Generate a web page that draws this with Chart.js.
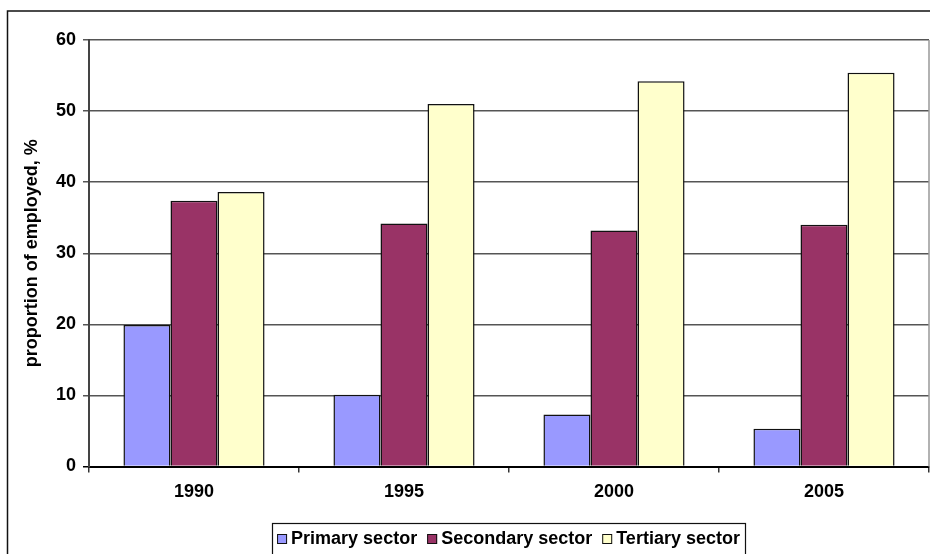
<!DOCTYPE html>
<html>
<head>
<meta charset="utf-8">
<script src="https://cdn.jsdelivr.net/npm/chart.js@4/dist/chart.umd.min.js"></script>
<style>
  html, body { margin: 0; padding: 0; background: #fff; overflow: hidden; }
  #wrap { width: 930px; height: 554px; position: relative; }
</style>
</head>
<body>
<div id="wrap"><canvas id="c" width="930" height="554"></canvas></div>
<script>
// Employment structure by sector, share of employed (%)
const years = ['1990', '1995', '2000', '2005'];
const primarySector = [19.9, 10.1, 7.3, 5.3];
const secondarySector = [37.4, 34.2, 33.2, 34.0];
const tertiarySector = [38.6, 51.0, 54.2, 55.4];
const seriesNames = ['Primary sector', 'Secondary sector', 'Tertiary sector'];
const yTicks = [0, 10, 20, 30, 40, 50, 60];

const FONT = 'Liberation Sans, Arial, Helvetica, sans-serif';
const FSIZE = 18;
const colors = ['#9999FF', '#993366', '#FFFFCC'];

// Outer frame of the chart object
const framePlugin = {
  id: 'frame',
  beforeDraw(chart) {
    const ctx = chart.ctx;
    ctx.save();
    ctx.fillStyle = '#fff';
    ctx.fillRect(0, 0, chart.width, chart.height);
    ctx.strokeStyle = '#111';
    ctx.lineWidth = 1.5;
    ctx.beginPath();
    ctx.moveTo(7.5, chart.height + 5);
    ctx.lineTo(7.5, 11);
    ctx.lineTo(chart.width + 5, 11);
    ctx.stroke();
    ctx.restore();
  },
  afterDraw(chart) {
    // right edge of the plot area
    const a = chart.chartArea;
    const ctx = chart.ctx;
    ctx.save();
    ctx.strokeStyle = '#999';
    ctx.lineWidth = 1.5;
    ctx.beginPath();
    ctx.moveTo(a.right, a.top);
    ctx.lineTo(a.right, a.bottom);
    ctx.stroke();
    ctx.restore();
  }
};

// Boxed legend below the axis
const boxLegend = {
  id: 'boxLegend',
  afterDraw(chart) {
    const ctx = chart.ctx;
    const ds = chart.data.datasets;
    ctx.save();
    ctx.font = 'bold ' + FSIZE + 'px ' + FONT;
    const sq = 10, gapText = 4, gapItem = 10;
    const widths = ds.map(d => ctx.measureText(d.label).width);
    let total = 0;
    widths.forEach((w, i) => { total += sq + gapText + w + (i < widths.length - 1 ? gapItem : 0); });
    const boxL = 272, boxR = 745, boxT = 523;
    ctx.fillStyle = '#fff';
    ctx.fillRect(boxL, boxT, boxR - boxL, chart.height - boxT + 10);
    ctx.strokeStyle = '#111';
    ctx.lineWidth = 1.2;
    ctx.strokeRect(boxL + 0.5, boxT + 0.5, boxR - boxL, chart.height - boxT + 10);
    let x = (boxL + boxR) / 2 - total / 2;
    const cy = 539;
    ds.forEach((d, i) => {
      ctx.fillStyle = d.backgroundColor;
      ctx.fillRect(x, cy - 5, sq, sq);
      ctx.strokeStyle = '#111';
      ctx.lineWidth = 1;
      ctx.strokeRect(x + 0.5, cy - 5 + 0.5, sq - 1, sq - 1);
      x += sq + gapText;
      ctx.fillStyle = '#000';
      ctx.textBaseline = 'middle';
      ctx.textAlign = 'left';
      ctx.fillText(d.label, x, cy);
      x += widths[i] + gapItem;
    });
    ctx.restore();
  }
};

const mkSet = (label, data, color) => ({
  label, data,
  backgroundColor: color,
  borderColor: '#111',
  borderWidth: 1.5,
  borderSkipped: 'start',
  categoryPercentage: 0.672,
  barPercentage: 1.0
});

new Chart(document.getElementById('c'), {
  type: 'bar',
  data: {
    labels: years,
    datasets: [
      mkSet(seriesNames[0], primarySector, colors[0]),
      mkSet(seriesNames[1], secondarySector, colors[1]),
      mkSet(seriesNames[2], tertiarySector, colors[2])
    ]
  },
  options: {
    responsive: false,
    devicePixelRatio: 1,
    animation: false,
    layout: { padding: { top: 40, right: 1, left: 0, bottom: 0 } },
    plugins: {
      legend: { display: false },
      tooltip: { enabled: false }
    },
    scales: {
      x: {
        offset: true,
        grid: {
          offset: true,
          drawOnChartArea: false,
          drawTicks: true,
          tickLength: 6,
          color: '#333',
          lineWidth: 1.5
        },
        border: { color: '#000', width: 2 },
        ticks: {
          color: '#000',
          font: { family: FONT, size: FSIZE, weight: 'bold' },
          padding: 9,
          maxRotation: 0
        },
        afterFit(scale) { scale.height = 87.5; }
      },
      y: {
        min: 0,
        max: 60,
        afterBuildTicks(scale) { scale.ticks = yTicks.map(v => ({ value: v })); },
        grid: {
          color: ctx => (ctx.tick && ctx.tick.value === 0 ? '#000' : '#555'),
          lineWidth: 1.5,
          tickLength: 6,
          drawTicks: true
        },
        border: { color: '#444', width: 2 },
        ticks: {
          color: '#000',
          font: { family: FONT, size: FSIZE, weight: 'bold' },
          padding: 7
        },
        title: {
          display: true,
          text: 'proportion of employed, %',
          color: '#000',
          font: { family: FONT, size: FSIZE, weight: 'bold' },
          padding: { top: 21, bottom: 0 }
        },
        afterFit(scale) { scale.width = 89; }
      }
    }
  },
  plugins: [framePlugin, boxLegend]
});
</script>
</body>
</html>
